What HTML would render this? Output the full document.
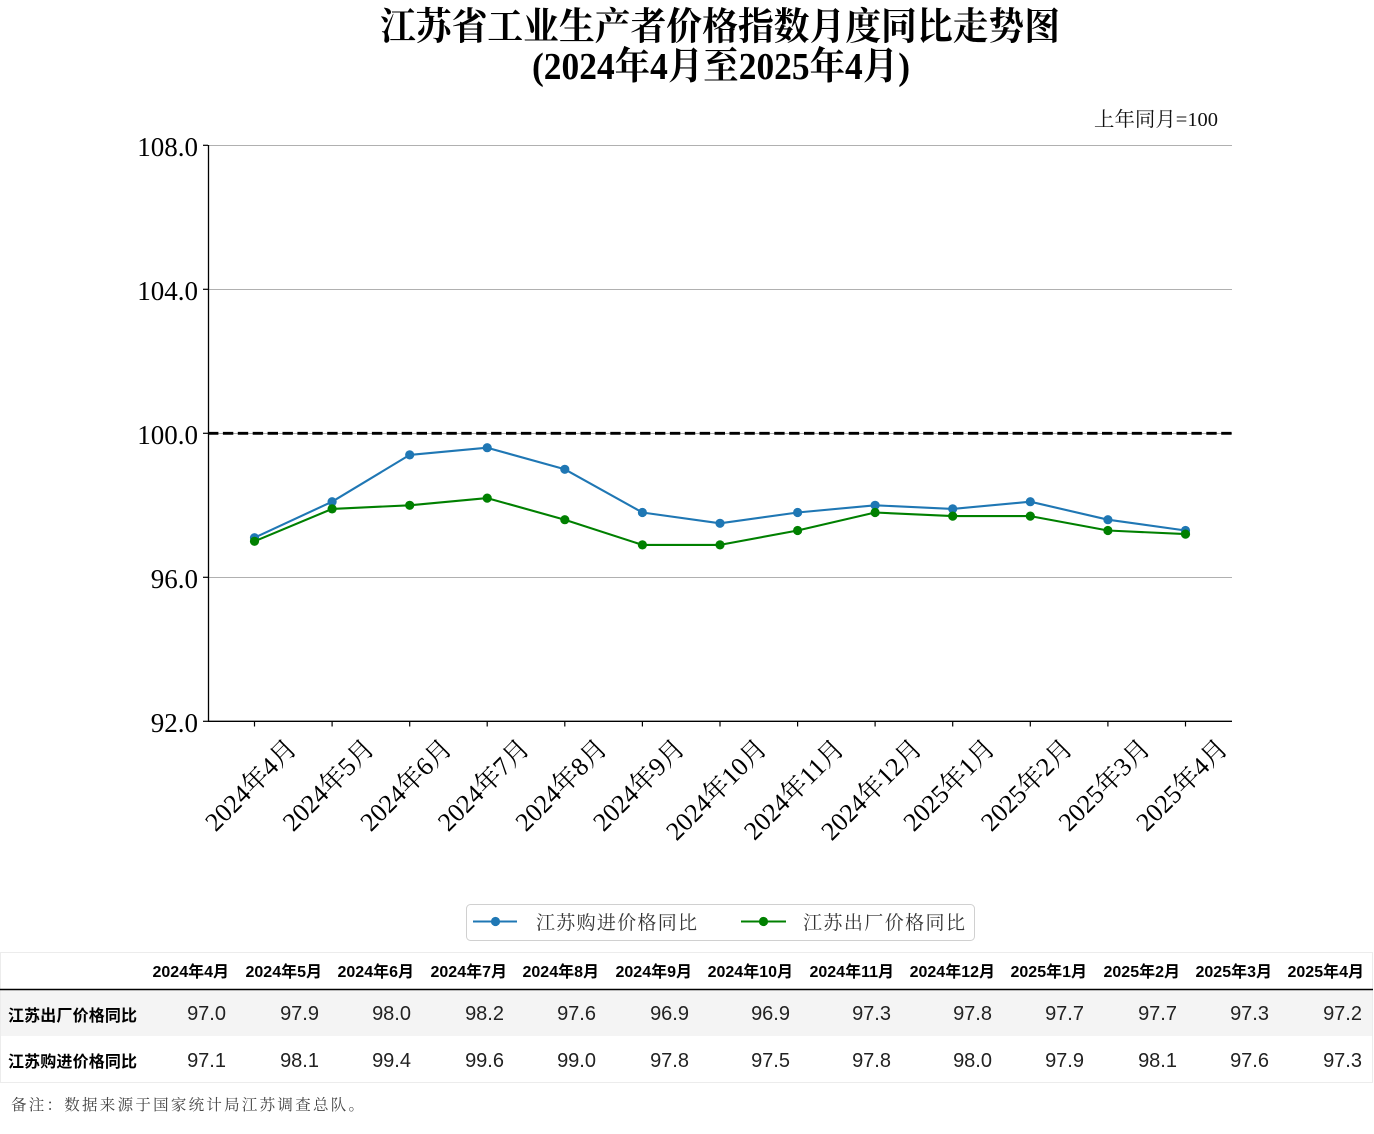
<!DOCTYPE html>
<html><head><meta charset="utf-8"><style>
html,body{margin:0;padding:0;background:#fff;}
svg{display:block}
.serif{font-family:"Liberation Serif","Noto Serif CJK SC",serif;}
.sans{font-family:"Liberation Sans","Noto Sans CJK SC",sans-serif;}
.cjk{font-family:"Liberation Serif","Noto Serif CJK SC",serif;}
</style></head><body>
<svg width="1374" height="1134" viewBox="0 0 1374 1134" xmlns="http://www.w3.org/2000/svg">
<rect width="1374" height="1134" fill="#fff"/>

<!-- Title -->
<text class="serif" x="720" y="39.5" text-anchor="middle" font-size="38" font-weight="bold" fill="#000" textLength="680" lengthAdjust="spacingAndGlyphs">江苏省工业生产者价格指数月度同比走势图</text>
<text class="serif" x="721" y="79" text-anchor="middle" font-size="38" font-weight="bold" fill="#000" textLength="378" lengthAdjust="spacingAndGlyphs">(2024年4月至2025年4月)</text>

<!-- note -->
<text class="serif" x="1218" y="126" text-anchor="end" font-size="20" fill="#111" textLength="124" lengthAdjust="spacingAndGlyphs">上年同月=100</text>

<!-- grid -->
<g stroke="#b0b0b0" stroke-width="1">
<line x1="208" y1="145.5" x2="1232" y2="145.5"/>
<line x1="208" y1="289.5" x2="1232" y2="289.5"/>
<line x1="208" y1="433.5" x2="1232" y2="433.5"/>
<line x1="208" y1="577.5" x2="1232" y2="577.5"/>
</g>

<!-- dashed 100 line -->
<line x1="208" y1="433.3" x2="1232" y2="433.3" stroke="#000" stroke-width="2.8" stroke-dasharray="10.4 4.5"/>

<!-- spines -->
<line x1="208.5" y1="145" x2="208.5" y2="721.8" stroke="#000" stroke-width="1.3"/>
<line x1="208" y1="721.3" x2="1232" y2="721.3" stroke="#000" stroke-width="1.3"/>

<!-- y ticks -->
<g stroke="#000" stroke-width="1.2">
<line x1="203" y1="145.3" x2="208" y2="145.3"/>
<line x1="203" y1="289.3" x2="208" y2="289.3"/>
<line x1="203" y1="433.3" x2="208" y2="433.3"/>
<line x1="203" y1="577.3" x2="208" y2="577.3"/>
<line x1="203" y1="721.3" x2="208" y2="721.3"/>
</g>
<g class="serif" font-size="27" fill="#000" text-anchor="end">
<text x="198" y="155.8">108.0</text>
<text x="198" y="299.8">104.0</text>
<text x="198" y="443.8">100.0</text>
<text x="198" y="587.8">96.0</text>
<text x="198" y="731.8">92.0</text>
</g>

<!-- x ticks -->
<g stroke="#000" stroke-width="1.2">
<line x1="254.5" y1="721" x2="254.5" y2="726.5"/>
<line x1="332.1" y1="721" x2="332.1" y2="726.5"/>
<line x1="409.7" y1="721" x2="409.7" y2="726.5"/>
<line x1="487.2" y1="721" x2="487.2" y2="726.5"/>
<line x1="564.8" y1="721" x2="564.8" y2="726.5"/>
<line x1="642.4" y1="721" x2="642.4" y2="726.5"/>
<line x1="720.0" y1="721" x2="720.0" y2="726.5"/>
<line x1="797.6" y1="721" x2="797.6" y2="726.5"/>
<line x1="875.1" y1="721" x2="875.1" y2="726.5"/>
<line x1="952.7" y1="721" x2="952.7" y2="726.5"/>
<line x1="1030.3" y1="721" x2="1030.3" y2="726.5"/>
<line x1="1107.9" y1="721" x2="1107.9" y2="726.5"/>
<line x1="1185.5" y1="721" x2="1185.5" y2="726.5"/>
</g>

<!-- x tick labels -->
<g class="serif" font-size="26" fill="#000" text-anchor="middle">
<text x="251" y="793.6" transform="rotate(-45 251 785)">2024年4月</text>
<text x="328.6" y="793.6" transform="rotate(-45 328.6 785)">2024年5月</text>
<text x="406.2" y="793.6" transform="rotate(-45 406.2 785)">2024年6月</text>
<text x="483.7" y="793.6" transform="rotate(-45 483.7 785)">2024年7月</text>
<text x="561.3" y="793.6" transform="rotate(-45 561.3 785)">2024年8月</text>
<text x="638.9" y="793.6" transform="rotate(-45 638.9 785)">2024年9月</text>
<text x="716.5" y="798.2" transform="rotate(-45 716.5 789.6)">2024年10月</text>
<text x="794.1" y="798.2" transform="rotate(-45 794.1 789.6)">2024年11月</text>
<text x="871.6" y="798.2" transform="rotate(-45 871.6 789.6)">2024年12月</text>
<text x="949.2" y="793.6" transform="rotate(-45 949.2 785)">2025年1月</text>
<text x="1026.8" y="793.6" transform="rotate(-45 1026.8 785)">2025年2月</text>
<text x="1104.4" y="793.6" transform="rotate(-45 1104.4 785)">2025年3月</text>
<text x="1182" y="793.6" transform="rotate(-45 1182 785)">2025年4月</text>
</g>

<!-- blue series: 购进 -->
<polyline fill="none" stroke="#1f77b4" stroke-width="2.1" stroke-linejoin="round"
 points="254.5,537.7 332.1,501.7 409.7,454.9 487.2,447.7 564.8,469.3 642.4,512.5 720.0,523.3 797.6,512.5 875.1,505.3 952.7,508.9 1030.3,501.7 1107.9,519.7 1185.5,530.5"/>
<g fill="#1f77b4">
<circle cx="254.5" cy="537.7" r="4.6"/><circle cx="332.1" cy="501.7" r="4.6"/><circle cx="409.7" cy="454.9" r="4.6"/><circle cx="487.2" cy="447.7" r="4.6"/><circle cx="564.8" cy="469.3" r="4.6"/><circle cx="642.4" cy="512.5" r="4.6"/><circle cx="720.0" cy="523.3" r="4.6"/><circle cx="797.6" cy="512.5" r="4.6"/><circle cx="875.1" cy="505.3" r="4.6"/><circle cx="952.7" cy="508.9" r="4.6"/><circle cx="1030.3" cy="501.7" r="4.6"/><circle cx="1107.9" cy="519.7" r="4.6"/><circle cx="1185.5" cy="530.5" r="4.6"/>
</g>

<!-- green series: 出厂 -->
<polyline fill="none" stroke="#008000" stroke-width="2.1" stroke-linejoin="round"
 points="254.5,541.3 332.1,508.9 409.7,505.3 487.2,498.1 564.8,519.7 642.4,544.9 720.0,544.9 797.6,530.5 875.1,512.5 952.7,516.1 1030.3,516.1 1107.9,530.5 1185.5,534.1"/>
<g fill="#008000">
<circle cx="254.5" cy="541.3" r="4.6"/><circle cx="332.1" cy="508.9" r="4.6"/><circle cx="409.7" cy="505.3" r="4.6"/><circle cx="487.2" cy="498.1" r="4.6"/><circle cx="564.8" cy="519.7" r="4.6"/><circle cx="642.4" cy="544.9" r="4.6"/><circle cx="720.0" cy="544.9" r="4.6"/><circle cx="797.6" cy="530.5" r="4.6"/><circle cx="875.1" cy="512.5" r="4.6"/><circle cx="952.7" cy="516.1" r="4.6"/><circle cx="1030.3" cy="516.1" r="4.6"/><circle cx="1107.9" cy="530.5" r="4.6"/><circle cx="1185.5" cy="534.1" r="4.6"/>
</g>

<!-- legend -->
<rect x="466.5" y="904.5" width="508" height="36" rx="4" ry="4" fill="#fff" stroke="#d0d0d0" stroke-width="1"/>
<line x1="473" y1="921.5" x2="517" y2="921.5" stroke="#1f77b4" stroke-width="2.1"/>
<circle cx="495.5" cy="921.5" r="4.6" fill="#1f77b4"/>
<text class="cjk" x="536" y="929" font-size="19" fill="#333" textLength="161" lengthAdjust="spacing">江苏购进价格同比</text>
<line x1="741" y1="921.5" x2="786" y2="921.5" stroke="#008000" stroke-width="2.1"/>
<circle cx="763.5" cy="921.5" r="4.6" fill="#008000"/>
<text class="cjk" x="803" y="929" font-size="19" fill="#333" textLength="162" lengthAdjust="spacing">江苏出厂价格同比</text>

<!-- table -->
<rect x="0.5" y="952.5" width="1372" height="130" fill="#fff" stroke="#ececec" stroke-width="1"/>
<rect x="1" y="990" width="1371" height="46" fill="#f4f4f4"/>
<line x1="0" y1="989.5" x2="1373" y2="989.5" stroke="#000" stroke-width="1.5"/>
<line x1="0" y1="1082.5" x2="1373" y2="1082.5" stroke="#ececec" stroke-width="1"/>

<g class="sans" font-size="16" font-weight="bold" fill="#000" text-anchor="end">
<text x="229" y="977">2024年4月</text>
<text x="322" y="977">2024年5月</text>
<text x="414" y="977">2024年6月</text>
<text x="507" y="977">2024年7月</text>
<text x="599" y="977">2024年8月</text>
<text x="692" y="977">2024年9月</text>
<text x="793" y="977">2024年10月</text>
<text x="894" y="977">2024年11月</text>
<text x="995" y="977">2024年12月</text>
<text x="1087" y="977">2025年1月</text>
<text x="1180" y="977">2025年2月</text>
<text x="1272" y="977">2025年3月</text>
<text x="1364" y="977">2025年4月</text>
</g>

<g class="sans" font-size="16" font-weight="bold" fill="#000">
<text x="8" y="1021" textLength="129" lengthAdjust="spacing">江苏出厂价格同比</text>
<text x="8" y="1067" textLength="129" lengthAdjust="spacing">江苏购进价格同比</text>
</g>

<g class="sans" font-size="20" fill="#222" text-anchor="end">
<text x="226" y="1020">97.0</text>
<text x="319" y="1020">97.9</text>
<text x="411" y="1020">98.0</text>
<text x="504" y="1020">98.2</text>
<text x="596" y="1020">97.6</text>
<text x="689" y="1020">96.9</text>
<text x="790" y="1020">96.9</text>
<text x="891" y="1020">97.3</text>
<text x="992" y="1020">97.8</text>
<text x="1084" y="1020">97.7</text>
<text x="1177" y="1020">97.7</text>
<text x="1269" y="1020">97.3</text>
<text x="1362" y="1020">97.2</text>

<text x="226" y="1067">97.1</text>
<text x="319" y="1067">98.1</text>
<text x="411" y="1067">99.4</text>
<text x="504" y="1067">99.6</text>
<text x="596" y="1067">99.0</text>
<text x="689" y="1067">97.8</text>
<text x="790" y="1067">97.5</text>
<text x="891" y="1067">97.8</text>
<text x="992" y="1067">98.0</text>
<text x="1084" y="1067">97.9</text>
<text x="1177" y="1067">98.1</text>
<text x="1269" y="1067">97.6</text>
<text x="1362" y="1067">97.3</text>
</g>

<!-- footnote -->
<text class="cjk" x="11" y="1110" font-size="15.5" fill="#444" textLength="353" lengthAdjust="spacing">备注：数据来源于国家统计局江苏调查总队。</text>
</svg>
</body></html>
